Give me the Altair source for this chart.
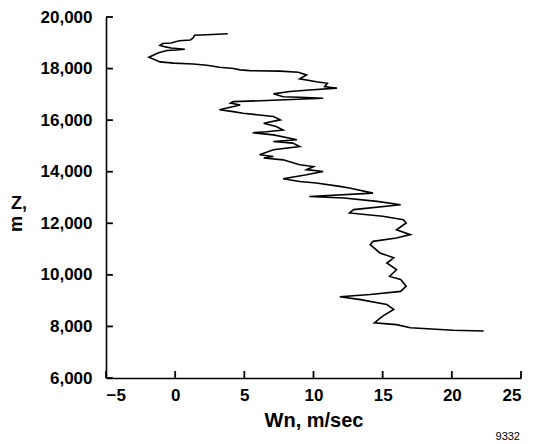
import altair as alt
import pandas as pd

# Wind component Wn (m/sec) vs altitude Z (m), traced from top to bottom
wn = [3.8, 2.3, 1.4, 1.3, 1.1, 0.3, -0.3, -0.9, -1.1, -0.7, -0.3, 0.7, 0.1, -0.6, -1.2,
      -1.9, -1.5, -1.1, -0.1, 1.3, 2.3, 3.2, 4.2, 4.7, 5.4, 7.6, 8.9, 9.5, 9.0, 10.2,
      11.0, 10.8, 11.7, 9.7, 8.3, 7.1, 7.8, 9.0, 10.7, 6.6, 4.2, 4.0, 4.7, 3.2, 4.2,
      4.9, 5.9, 7.1, 7.6, 6.4, 7.3, 7.8, 6.6, 5.6, 7.1, 8.3, 8.8, 7.1, 8.5, 9.0,
      7.1, 6.1, 7.1, 6.4, 7.8, 9.0, 10.0, 9.5, 10.7, 9.5, 7.8, 9.0, 10.2, 11.9, 12.6,
      14.3, 9.7, 12.2, 14.6, 16.3, 12.9, 12.6, 15.0, 16.5, 16.7, 16.0, 17.0, 16.0, 14.3, 14.1,
      14.8, 15.8, 15.3, 16.0, 15.5, 16.3, 16.7, 16.3, 14.1, 11.9, 13.4, 15.3, 15.8, 15.0, 14.4,
      16.0, 17.0, 20.1, 22.3]
z = [19350, 19310, 19290, 19190, 19110, 19080, 18990, 18970, 18900, 18840, 18800, 18750, 18720, 18700, 18610,
     18440, 18350, 18260, 18210, 18180, 18130, 18050, 18000, 17950, 17920, 17900, 17860, 17750, 17600, 17490,
     17430, 17300, 17240, 17170, 17110, 17020, 16910, 16890, 16850, 16760, 16720, 16660, 16590, 16400, 16330,
     16270, 16210, 16140, 16010, 15880, 15750, 15620, 15550, 15510, 15430, 15300, 15240, 15170, 15110, 14980,
     14850, 14660, 14590, 14530, 14460, 14270, 14200, 14080, 14010, 13880, 13730, 13620, 13560, 13430, 13370,
     13170, 13040, 12980, 12850, 12720, 12530, 12400, 12270, 12140, 12010, 11750, 11560, 11430, 11300, 11170,
     10850, 10660, 10460, 10200, 9940, 9820, 9560, 9360, 9240, 9150, 9040, 8850, 8660, 8400, 8140,
     8070, 7950, 7850, 7820]

x_ticks = [-5, 0, 5, 10, 15, 20, 25]
y_ticks = [6000, 8000, 10000, 12000, 14000, 16000, 18000, 20000]
y_title_parts = ["Z,", "m"]
note = ["9332"]

W, H = 415, 361
FONT = "Liberation Sans"
X0, X1 = -5, 25
Y0, Y1 = 6000, 20000
TICK_X = 0.5    # inward tick length in Wn units (about 7 px)
TICK_Y = 270    # inward tick length in Z units (about 7 px)

df = pd.DataFrame({"i": list(range(len(wn))), "wn": wn, "z": z})
xs = alt.Scale(domain=[X0, X1], nice=False, zero=False)
ys = alt.Scale(domain=[Y0, Y1], nice=False, zero=False)

line = alt.Chart(df).mark_line(color="black", strokeWidth=1.6).encode(
    x=alt.X("wn:Q", scale=xs,
            axis=alt.Axis(values=x_ticks, format="d", title="Wn, m/sec", ticks=False,
                          labelPadding=9, titlePadding=7, titleFontSize=20)),
    y=alt.Y("z:Q", scale=ys,
            axis=alt.Axis(values=y_ticks, format=",d", title=None, ticks=False,
                          labelPadding=14)),
    order="i:Q",
)

ytk_df = pd.DataFrame({"z": y_ticks, "a": [X0] * len(y_ticks), "b": [X0 + TICK_X] * len(y_ticks)})
ytk = alt.Chart(ytk_df).mark_rule(color="black", strokeWidth=1.8).encode(
    y=alt.Y("z:Q", scale=ys), x=alt.X("a:Q", scale=xs), x2="b:Q"
)
xtk_df = pd.DataFrame({"wn": x_ticks, "a": [Y0] * len(x_ticks), "b": [Y0 + TICK_Y] * len(x_ticks)})
xtk = alt.Chart(xtk_df).mark_rule(color="black", strokeWidth=1.8).encode(
    x=alt.X("wn:Q", scale=xs), y=alt.Y("a:Q", scale=ys), y2="b:Q"
)

zt = alt.Chart(pd.DataFrame({"t": [y_title_parts[0]]})).mark_text(
    font=FONT, fontSize=18, fontWeight="bold", align="center", baseline="middle", color="black"
).encode(x=alt.value(-87), y=alt.value(187), text="t:N")
mt = alt.Chart(pd.DataFrame({"t": [y_title_parts[1]]})).mark_text(
    font=FONT, fontSize=18, fontWeight="bold", align="center", baseline="middle", color="black",
    angle=270
).encode(x=alt.value(-89), y=alt.value(207), text="t:N")

txt = alt.Chart(pd.DataFrame({"t": note})).mark_text(
    font=FONT, fontSize=11, align="right", baseline="middle", color="black"
).encode(x=alt.value(414), y=alt.value(420), text="t:N")

chart = alt.layer(line, ytk, xtk, zt, mt, txt).properties(
    width=W, height=H,
    autosize=alt.AutoSizeParams(type="none"),
    padding={"left": 106, "top": 17, "right": 12, "bottom": 66},
).configure_view(stroke=None).configure_axis(
    grid=False, domainColor="black", domainWidth=1.6,
    labelFont=FONT, labelFontSize=17, labelFontWeight="bold", labelColor="black",
    titleFont=FONT, titleFontSize=17, titleFontWeight="bold", titleColor="black",
)

chart.save("out.html", embed_options={"renderer": "svg", "actions": False})
